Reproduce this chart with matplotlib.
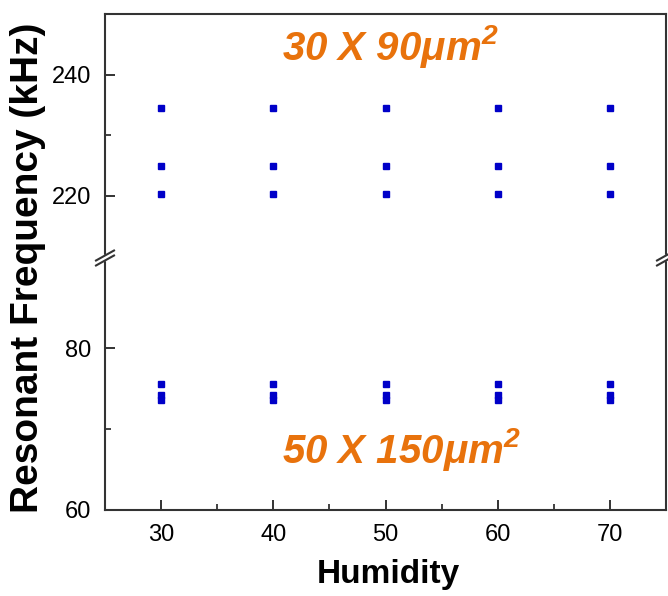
import matplotlib
matplotlib.use("Agg")
import matplotlib.pyplot as plt
from matplotlib.lines import Line2D

plt.rcParams['font.family'] = ['Liberation Sans', 'DejaVu Sans']

# humidity sweep and the resonant modes seen for each cantilever size
humidity = [30, 40, 50, 60, 70]
modes_small = [234.5, 224.9, 220.3]      # 30 x 90 um^2 (kHz)
modes_large = [75.55, 74.2, 73.6]        # 50 x 150 um^2 (kHz)

label_small = "30 X 90μm$^{\\mathregular{2}}$"
label_large = "50 X 150μm$^{\\mathregular{2}}$"

W, H = 668, 596
fig = plt.figure(figsize=(W / 100, H / 100), dpi=100)

left, right = 105 / W, 666 / W
top_px, brk_px, bot_px = 14, 258, 510
ax_top = fig.add_axes([left, 1 - brk_px / H, right - left, (brk_px - top_px) / H])
ax_bot = fig.add_axes([left, 1 - bot_px / H, right - left, (bot_px - brk_px) / H])

spine_col = '#333333'
blue = '#0000c8'
orange = '#e8720c'

for f in modes_small:
    ax_top.plot(humidity, [f] * len(humidity), 's', color=blue, ms=4.3, mec=blue)
for f in modes_large:
    ax_bot.plot(humidity, [f] * len(humidity), 's', color=blue, ms=4.3, mec=blue)

ax_top.set_ylim(209.7, 250)
ax_top.set_yticks([220, 240])
ax_top.set_yticks([230], minor=True)
ax_top.set_xticks([])
ax_top.spines['bottom'].set_visible(False)

ax_bot.set_ylim(60, 91.2)
ax_bot.set_yticks([60, 80])
ax_bot.set_yticks([70], minor=True)
ax_bot.set_xticks([30, 40, 50, 60, 70])
ax_bot.set_xticks([35, 45, 55, 65], minor=True)
ax_bot.spines['top'].set_visible(False)

for ax in (ax_top, ax_bot):
    ax.set_xlim(25, 75)
    for sp in ax.spines.values():
        sp.set_linewidth(1.5)
        sp.set_color(spine_col)
    ax.tick_params(which='major', direction='in', length=7, width=1.4,
                   color=spine_col, labelsize=17, top=False, right=False)
    ax.tick_params(which='minor', direction='in', length=4, width=1.3,
                   color=spine_col, top=False, right=False)
    ax.tick_params(axis='y', pad=10)
ax_bot.tick_params(axis='x', pad=10)

ax_top.text(0.508, 0.868, label_small, transform=ax_top.transAxes, ha='center',
            va='center', color=orange, fontsize=29, fontweight='bold',
            fontstyle='italic')
ax_bot.text(0.528, 0.24, label_large, transform=ax_bot.transAxes, ha='center',
            va='center', color=orange, fontsize=29, fontweight='bold',
            fontstyle='italic')

# axis break marks on both side spines
yb = 1 - brk_px / H
dx, dy, gap = 9 / W, 5 / H, 5 / H
for xs in (left, right):
    fig.patches.append(plt.Rectangle((xs - 3 / W, yb - gap / 2), 6 / W, gap,
                                     transform=fig.transFigure, color='white',
                                     zorder=5))
    for off in (gap / 2, -gap / 2):
        fig.lines.append(Line2D([xs - dx, xs + dx], [yb + off - dy, yb + off + dy],
                                transform=fig.transFigure, color=spine_col,
                                lw=1.5, zorder=6))

fig.text(28 / W, 1 - 268 / H, 'Resonant Frequency (kHz)', rotation=90,
         ha='center', va='center', fontsize=28, fontweight='bold')
fig.text(388 / W, 1 - 574 / H, 'Humidity', ha='center', va='center',
         fontsize=24, fontweight='bold')

fig.savefig('out.png', dpi=100)
